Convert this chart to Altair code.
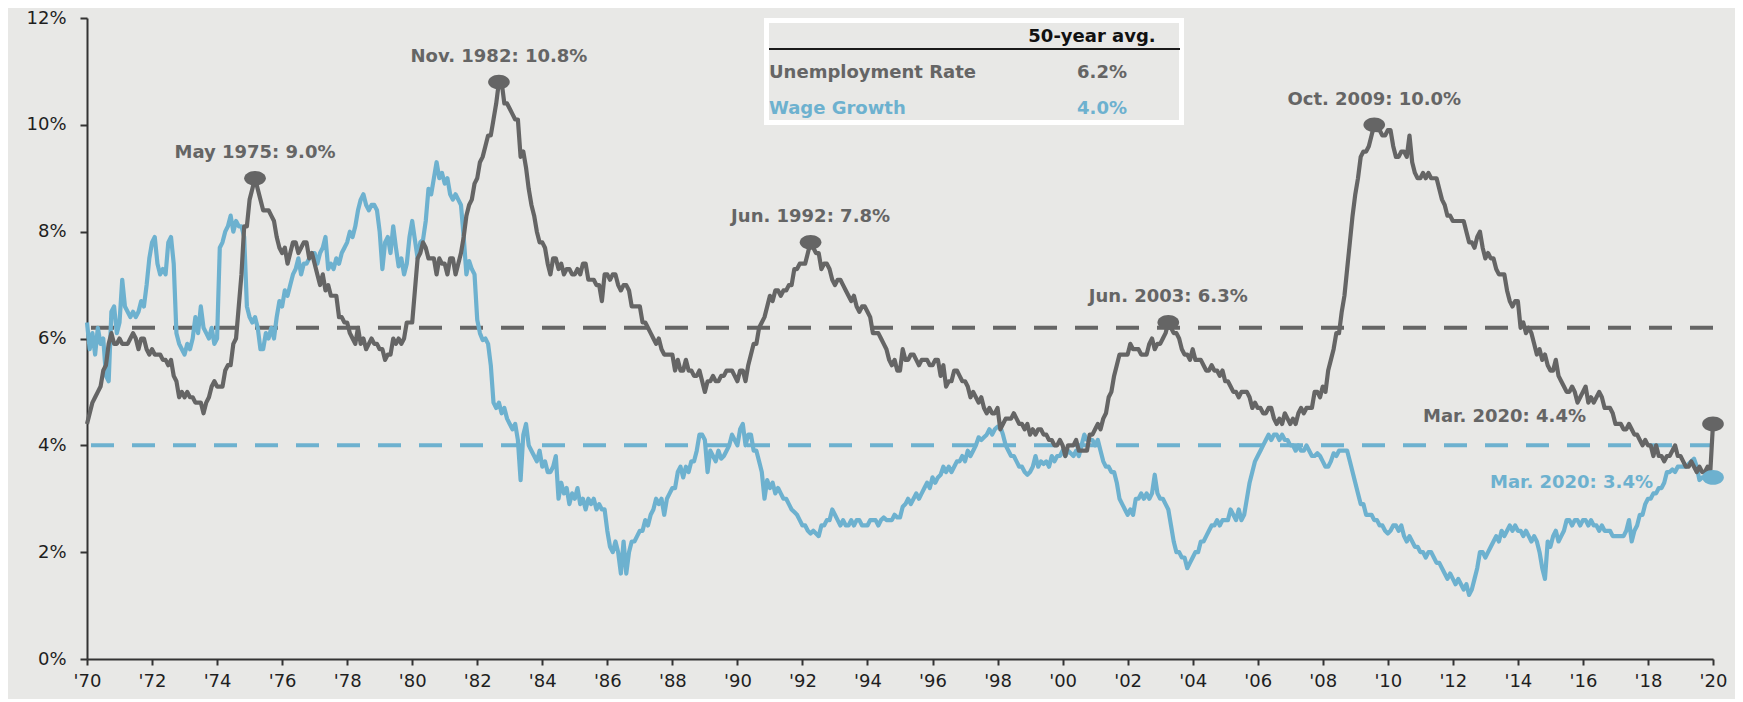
import altair as alt
import pandas as pd

# ---------------- data (monthly, Mar 1970 .. Mar 2020) ----------------
START_YEAR = 1970
START_MONTH = 3

unemployment = [
    4.4, 4.6, 4.8, 4.9, 5.0, 5.1, 5.4, 5.5, 5.9, 6.1,                # 1970 (Mar-Dec)
    5.9, 5.9, 6.0, 5.9, 5.9, 5.9, 6.0, 6.1, 6.0, 5.8, 6.0, 6.0,      # 1971
    5.8, 5.7, 5.8, 5.7, 5.7, 5.7, 5.6, 5.6, 5.5, 5.6, 5.3, 5.2,      # 1972
    4.9, 5.0, 4.9, 5.0, 4.9, 4.9, 4.8, 4.8, 4.8, 4.6, 4.8, 4.9,      # 1973
    5.1, 5.2, 5.1, 5.1, 5.1, 5.4, 5.5, 5.5, 5.9, 6.0, 6.6, 7.2,      # 1974
    8.1, 8.1, 8.6, 8.8, 9.0, 8.8, 8.6, 8.4, 8.4, 8.4, 8.3, 8.2,      # 1975
    7.9, 7.7, 7.6, 7.7, 7.4, 7.6, 7.8, 7.8, 7.6, 7.7, 7.8, 7.8,      # 1976
    7.5, 7.6, 7.4, 7.2, 7.0, 7.2, 6.9, 7.0, 6.8, 6.8, 6.8, 6.4,      # 1977
    6.4, 6.3, 6.3, 6.1, 6.0, 5.9, 6.2, 5.9, 6.0, 5.8, 5.9, 6.0,      # 1978
    5.9, 5.9, 5.8, 5.8, 5.6, 5.7, 5.7, 6.0, 5.9, 6.0, 5.9, 6.0,      # 1979
    6.3, 6.3, 6.3, 6.9, 7.5, 7.6, 7.8, 7.7, 7.5, 7.5, 7.5, 7.2,      # 1980
    7.5, 7.4, 7.4, 7.2, 7.5, 7.5, 7.2, 7.4, 7.6, 7.9, 8.3, 8.5,      # 1981
    8.6, 8.9, 9.0, 9.3, 9.4, 9.6, 9.8, 9.8, 10.1, 10.4, 10.8, 10.8,  # 1982
    10.4, 10.4, 10.3, 10.2, 10.1, 10.1, 9.4, 9.5, 9.2, 8.8, 8.5, 8.3,  # 1983
    8.0, 7.8, 7.8, 7.7, 7.4, 7.2, 7.5, 7.5, 7.3, 7.4, 7.2, 7.3,      # 1984
    7.3, 7.2, 7.2, 7.3, 7.2, 7.4, 7.4, 7.1, 7.1, 7.1, 7.0, 7.0,      # 1985
    6.7, 7.2, 7.2, 7.1, 7.2, 7.2, 7.0, 6.9, 7.0, 7.0, 6.9, 6.6,      # 1986
    6.6, 6.6, 6.6, 6.3, 6.3, 6.2, 6.1, 6.0, 5.9, 6.0, 5.8, 5.7,      # 1987
    5.7, 5.7, 5.7, 5.4, 5.6, 5.4, 5.4, 5.6, 5.4, 5.4, 5.3, 5.3,      # 1988
    5.4, 5.2, 5.0, 5.2, 5.2, 5.3, 5.2, 5.2, 5.3, 5.3, 5.4, 5.4,      # 1989
    5.4, 5.3, 5.2, 5.4, 5.4, 5.2, 5.5, 5.7, 5.9, 5.9, 6.2, 6.3,      # 1990
    6.4, 6.6, 6.8, 6.7, 6.9, 6.9, 6.8, 6.9, 6.9, 7.0, 7.0, 7.3,      # 1991
    7.3, 7.4, 7.4, 7.4, 7.6, 7.8, 7.7, 7.6, 7.6, 7.3, 7.4, 7.4,      # 1992
    7.3, 7.1, 7.0, 7.1, 7.1, 7.0, 6.9, 6.8, 6.7, 6.8, 6.6, 6.5,      # 1993
    6.6, 6.6, 6.5, 6.4, 6.1, 6.1, 6.1, 6.0, 5.9, 5.8, 5.6, 5.5,      # 1994
    5.6, 5.4, 5.4, 5.8, 5.6, 5.6, 5.7, 5.7, 5.6, 5.5, 5.6, 5.6,      # 1995
    5.6, 5.5, 5.5, 5.6, 5.6, 5.3, 5.5, 5.1, 5.2, 5.2, 5.4, 5.4,      # 1996
    5.3, 5.2, 5.2, 5.1, 4.9, 5.0, 4.9, 4.8, 4.9, 4.7, 4.6, 4.7,      # 1997
    4.6, 4.6, 4.7, 4.3, 4.4, 4.5, 4.5, 4.5, 4.6, 4.5, 4.4, 4.4,      # 1998
    4.3, 4.4, 4.2, 4.3, 4.2, 4.3, 4.3, 4.2, 4.2, 4.1, 4.1, 4.0,      # 1999
    4.0, 4.1, 4.0, 3.8, 4.0, 4.0, 4.0, 4.1, 3.9, 3.9, 3.9, 3.9,      # 2000
    4.2, 4.2, 4.3, 4.4, 4.3, 4.5, 4.6, 4.9, 5.0, 5.3, 5.5, 5.7,      # 2001
    5.7, 5.7, 5.7, 5.9, 5.8, 5.8, 5.8, 5.7, 5.7, 5.7, 5.9, 6.0,      # 2002
    5.8, 5.9, 5.9, 6.0, 6.1, 6.3, 6.2, 6.1, 6.1, 6.0, 5.8, 5.7,      # 2003
    5.7, 5.6, 5.8, 5.6, 5.6, 5.6, 5.5, 5.4, 5.4, 5.5, 5.4, 5.4,      # 2004
    5.3, 5.4, 5.2, 5.2, 5.1, 5.0, 5.0, 4.9, 5.0, 5.0, 5.0, 4.9,      # 2005
    4.7, 4.8, 4.7, 4.7, 4.6, 4.6, 4.7, 4.7, 4.5, 4.4, 4.5, 4.4,      # 2006
    4.6, 4.5, 4.4, 4.5, 4.4, 4.6, 4.7, 4.6, 4.7, 4.7, 4.7, 5.0,      # 2007
    5.0, 4.9, 5.1, 5.0, 5.4, 5.6, 5.8, 6.1, 6.1, 6.5, 6.8, 7.3,      # 2008
    7.8, 8.3, 8.7, 9.0, 9.4, 9.5, 9.5, 9.6, 9.8, 10.0, 9.9, 9.9,     # 2009
    9.8, 9.8, 9.9, 9.9, 9.6, 9.4, 9.4, 9.5, 9.5, 9.4, 9.8, 9.3,      # 2010
    9.1, 9.0, 9.0, 9.1, 9.0, 9.1, 9.0, 9.0, 9.0, 8.8, 8.6, 8.5,      # 2011
    8.3, 8.3, 8.2, 8.2, 8.2, 8.2, 8.2, 8.0, 7.8, 7.8, 7.7, 7.9,      # 2012
    8.0, 7.7, 7.5, 7.6, 7.5, 7.5, 7.3, 7.2, 7.2, 7.2, 6.9, 6.7,      # 2013
    6.6, 6.7, 6.7, 6.2, 6.3, 6.1, 6.2, 6.1, 5.9, 5.7, 5.8, 5.6,      # 2014
    5.7, 5.5, 5.4, 5.4, 5.6, 5.3, 5.2, 5.1, 5.0, 5.0, 5.1, 5.0,      # 2015
    4.8, 4.9, 5.0, 5.1, 4.8, 4.9, 4.8, 4.9, 5.0, 4.9, 4.7, 4.7,      # 2016
    4.7, 4.6, 4.4, 4.4, 4.4, 4.3, 4.3, 4.4, 4.3, 4.2, 4.2, 4.1,      # 2017
    4.0, 4.1, 4.0, 4.0, 3.8, 4.0, 3.8, 3.8, 3.7, 3.8, 3.8, 3.9,      # 2018
    4.0, 3.8, 3.8, 3.7, 3.6, 3.6, 3.7, 3.6, 3.5, 3.6, 3.5, 3.5,      # 2019
    3.6, 3.5, 4.4,                                                   # 2020 (Jan-Mar)
]

wage_growth = [
    6.3, 5.8, 6.1, 5.7, 6.2, 5.9, 6.0, 5.3, 5.2, 6.5,                # 1970 (Mar-Dec)
    6.6, 6.1, 6.3, 7.1, 6.6, 6.5, 6.4, 6.5, 6.4, 6.5, 6.7, 6.6,      # 1971
    7.0, 7.5, 7.8, 7.9, 7.4, 7.2, 7.3, 7.2, 7.8, 7.9, 7.4, 6.1,      # 1972
    5.9, 5.8, 5.7, 5.9, 5.8, 6.0, 6.4, 6.1, 6.6, 6.2, 6.1, 6.0,      # 1973
    6.2, 5.9, 6.0, 7.7, 7.8, 8.0, 8.1, 8.3, 8.0, 8.2, 8.1, 8.1,      # 1974
    7.9, 6.6, 6.4, 6.3, 6.4, 6.2, 5.8, 5.8, 6.1, 6.0, 6.2, 6.0,      # 1975
    6.4, 6.7, 6.6, 6.9, 6.8, 7.0, 7.2, 7.3, 7.5, 7.2, 7.4, 7.4,      # 1976
    7.5, 7.6, 7.6, 7.4, 7.6, 7.7, 7.9, 7.3, 7.4, 7.3, 7.5, 7.4,      # 1977
    7.6, 7.7, 7.8, 8.0, 7.9, 8.1, 8.4, 8.6, 8.7, 8.5, 8.4, 8.5,      # 1978
    8.5, 8.4, 8.0, 7.3, 7.8, 7.9, 7.6, 8.1, 7.7, 7.35, 7.5, 7.2,     # 1979
    7.4, 7.9, 8.2, 7.85, 7.5, 7.8, 7.85, 8.2, 8.8, 8.7, 9.0, 9.3,    # 1980
    9.0, 9.1, 8.9, 9.0, 8.7, 8.6, 8.7, 8.6, 8.5, 7.9, 7.2, 7.45,     # 1981
    7.3, 7.2, 6.35, 6.1, 5.97, 6.0, 5.9, 5.5, 4.8, 4.7, 4.8, 4.6,    # 1982
    4.7, 4.5, 4.4, 4.3, 4.4, 4.1, 3.35, 4.2, 4.4, 4.0, 3.9, 3.8,     # 1983
    3.7, 3.9, 3.6, 3.7, 3.5, 3.5, 3.6, 3.8, 3.0, 3.3, 3.1, 3.2,      # 1984
    2.9, 3.1, 3.0, 3.2, 2.9, 3.0, 2.8, 3.0, 2.9, 3.0, 2.8, 2.9,      # 1985
    2.8, 2.8, 2.4, 2.1, 2.0, 2.2, 2.0, 1.6, 2.2, 1.6, 2.0, 2.2,      # 1986
    2.2, 2.3, 2.4, 2.4, 2.6, 2.5, 2.7, 2.8, 3.0, 2.9, 3.0, 2.7,      # 1987
    3.0, 3.1, 3.2, 3.2, 3.5, 3.6, 3.4, 3.6, 3.5, 3.7, 3.7, 3.9,      # 1988
    4.2, 4.2, 4.1, 3.5, 3.9, 3.8, 3.7, 3.9, 3.75, 3.8, 3.9, 4.0,     # 1989
    4.2, 4.1, 4.0, 4.3, 4.4, 4.0, 4.2, 4.2, 3.9, 3.9, 3.7, 3.5,      # 1990
    3.0, 3.35, 3.2, 3.3, 3.1, 3.2, 3.1, 3.0, 3.0, 2.9, 2.8, 2.75,    # 1991
    2.7, 2.6, 2.5, 2.5, 2.4, 2.35, 2.4, 2.35, 2.3, 2.5, 2.5, 2.6,    # 1992
    2.6, 2.8, 2.7, 2.6, 2.5, 2.6, 2.5, 2.5, 2.6, 2.5, 2.6, 2.6,      # 1993
    2.5, 2.5, 2.5, 2.6, 2.6, 2.6, 2.5, 2.6, 2.65, 2.6, 2.6, 2.6,     # 1994
    2.7, 2.65, 2.65, 2.85, 2.9, 3.0, 2.9, 3.0, 3.1, 3.0, 3.1, 3.2,   # 1995
    3.3, 3.2, 3.4, 3.3, 3.4, 3.45, 3.6, 3.5, 3.6, 3.5, 3.6, 3.7,     # 1996
    3.7, 3.8, 3.7, 3.9, 3.8, 3.9, 4.0, 4.15, 4.1, 4.15, 4.2, 4.3,    # 1997
    4.2, 4.3, 4.35, 4.35, 4.2, 4.0, 3.9, 3.8, 3.8, 3.7, 3.6, 3.6,    # 1998
    3.5, 3.45, 3.5, 3.6, 3.8, 3.6, 3.7, 3.65, 3.7, 3.6, 3.8, 3.7,    # 1999
    3.8, 3.8, 3.9, 3.8, 3.9, 3.85, 3.8, 3.9, 3.8, 4.0, 4.2, 4.1,     # 2000
    4.1, 4.1, 4.0, 4.1, 3.9, 3.7, 3.6, 3.6, 3.5, 3.5, 3.3, 3.0,      # 2001
    2.9, 2.8, 2.7, 2.8, 2.7, 3.0, 3.0, 3.1, 3.0, 3.1, 3.0, 3.1,      # 2002
    3.45, 3.1, 3.0, 3.0, 2.9, 2.8, 2.5, 2.2, 2.0, 2.0, 1.9, 1.9,     # 2003
    1.7, 1.8, 1.9, 2.0, 2.0, 2.2, 2.2, 2.3, 2.4, 2.5, 2.5, 2.6,      # 2004
    2.5, 2.6, 2.6, 2.6, 2.8, 2.7, 2.6, 2.8, 2.6, 2.7, 3.0, 3.3,      # 2005
    3.5, 3.7, 3.8, 3.9, 4.0, 4.1, 4.2, 4.1, 4.2, 4.2, 4.1, 4.2,      # 2006
    4.1, 4.1, 4.0, 4.0, 3.9, 4.0, 3.9, 3.9, 4.0, 3.9, 3.8, 3.8,      # 2007
    3.85, 3.8, 3.7, 3.6, 3.6, 3.7, 3.85, 3.8, 3.9, 3.9, 3.9, 3.9,    # 2008
    3.7, 3.5, 3.3, 3.1, 2.9, 2.9, 2.7, 2.7, 2.7, 2.6, 2.6, 2.5,      # 2009
    2.5, 2.4, 2.35, 2.4, 2.5, 2.5, 2.4, 2.5, 2.3, 2.2, 2.3, 2.2,     # 2010
    2.1, 2.1, 2.0, 2.0, 1.9, 2.0, 2.0, 1.9, 1.8, 1.8, 1.7, 1.6,      # 2011
    1.5, 1.6, 1.5, 1.4, 1.5, 1.4, 1.3, 1.4, 1.2, 1.3, 1.5, 1.7,      # 2012
    2.0, 2.0, 1.9, 2.0, 2.1, 2.2, 2.3, 2.2, 2.4, 2.3, 2.4, 2.5,      # 2013
    2.4, 2.5, 2.4, 2.4, 2.3, 2.4, 2.3, 2.2, 2.3, 2.2, 2.0, 1.7,      # 2014
    1.5, 2.2, 2.1, 2.3, 2.4, 2.2, 2.3, 2.4, 2.6, 2.6, 2.5, 2.6,      # 2015
    2.6, 2.5, 2.6, 2.6, 2.5, 2.6, 2.5, 2.5, 2.4, 2.5, 2.4, 2.4,      # 2016
    2.4, 2.3, 2.3, 2.3, 2.3, 2.3, 2.4, 2.6, 2.2, 2.4, 2.5, 2.7,      # 2017
    2.7, 2.9, 3.0, 3.0, 3.1, 3.1, 3.2, 3.2, 3.3, 3.5, 3.5, 3.55,     # 2018
    3.5, 3.6, 3.6, 3.6, 3.6, 3.65, 3.7, 3.75, 3.6, 3.35, 3.4, 3.4,   # 2019
    3.4, 3.35, 3.4,                                                  # 2020 (Jan-Mar)
]

series_names = ["Unemployment Rate", "Wage Growth"]
avg_values = [6.2, 4.0]
avg_header = "50-year avg."

peak_labels = ["May 1975", "Nov. 1982", "Jun. 1992", "Jun. 2003", "Oct. 2009"]
peak_years = [1975, 1982, 1992, 2003, 2009]
peak_months = [5, 11, 6, 6, 10]
latest_label = "Mar. 2020"

x_tick_values = list(range(0, 51, 2))          # years since Mar 1970
y_tick_values = [0, 2, 4, 6, 8, 10, 12]

# ---------------- styling ----------------
GRAY = "#656565"
BLUE = "#6DB1CF"
BG = "#E8E8E6"
FONT = "DejaVu Sans"
W, H = 1626, 641
LINE_W = 4.2
ELLIPSE = "M-1,0 A1,0.68 0 1,0 1,0 A1,0.68 0 1,0 -1,0 Z"
MARK_SIZE = 470


def month_index(year, month):
    return (year - START_YEAR) * 12 + (month - START_MONTH)


n = min(len(unemployment), len(wage_growth))
t = [i / 12 for i in range(n)]
df_u = pd.DataFrame({"t": t, "value": unemployment[:n]})
df_w = pd.DataFrame({"t": t, "value": wage_growth[:n]})

x_scale = alt.Scale(domain=[0, 50], nice=False, zero=False)
y_scale = alt.Scale(domain=[0, 12], nice=False, zero=True)

x_axis = alt.Axis(
    values=x_tick_values,
    labelExpr="\"'\" + substring(toString(1970 + datum.value), 2, 4)",
    title=None, grid=False, labelFlush=False, labelOverlap=False,
    domainColor="#333333", domainWidth=2, tickColor="#333333", tickWidth=2,
    tickSize=6, labelPadding=7, labelFont=FONT, labelFontSize=18, labelColor="#1e1e1e",
)
y_axis = alt.Axis(
    values=y_tick_values, labelExpr="datum.value + '%'",
    title=None, grid=False,
    domainColor="#333333", domainWidth=2, tickColor="#333333", tickWidth=2,
    tickSize=7, labelPadding=14, labelFont=FONT, labelFontSize=18, labelColor="#1e1e1e",
)

X = alt.X("t:Q", scale=x_scale, axis=x_axis)
Y = alt.Y("value:Q", scale=y_scale, axis=y_axis)
Xs = alt.X("t:Q", scale=x_scale)
Ys = alt.Y("value:Q", scale=y_scale)

# average dashed rules
avg_rules = [
    alt.Chart(pd.DataFrame({"value": [v]})).mark_rule(
        color=c, strokeWidth=4, strokeDash=[23, 18]
    ).encode(y=Ys)
    for v, c in zip(avg_values, [GRAY, BLUE])
]

line_w = alt.Chart(df_w).mark_line(color=BLUE, strokeWidth=LINE_W, strokeJoin="round").encode(x=X, y=Y)
line_u = alt.Chart(df_u).mark_line(color=GRAY, strokeWidth=LINE_W, strokeJoin="round").encode(x=X, y=Y)

# peak annotations
pk_idx = [month_index(y, m) for y, m in zip(peak_years, peak_months)]
df_pk = pd.DataFrame({
    "t": [t[i] for i in pk_idx],
    "value": [unemployment[i] for i in pk_idx],
    "label": [f"{lab}: {unemployment[i]:.1f}%" for lab, i in zip(peak_labels, pk_idx)],
})
pk_pts = alt.Chart(df_pk).mark_point(
    filled=True, size=MARK_SIZE, opacity=1, color=GRAY, shape=ELLIPSE, strokeWidth=0
).encode(x=Xs, y=Ys)
pk_txt = alt.Chart(df_pk).mark_text(
    font=FONT, fontSize=18, fontWeight="bold", color=GRAY, dy=-25, baseline="middle"
).encode(x=Xs, y=Ys, text="label:N")

# latest values
last = n - 1
df_last_u = pd.DataFrame({"t": [t[last]], "value": [unemployment[last]],
                          "label": [f"{latest_label}: {unemployment[last]:.1f}%"]})
df_last_w = pd.DataFrame({"t": [t[last]], "value": [wage_growth[last]],
                          "label": [f"{latest_label}: {wage_growth[last]:.1f}%"]})
last_u_pt = alt.Chart(df_last_u).mark_point(
    filled=True, size=MARK_SIZE, opacity=1, color=GRAY, shape=ELLIPSE, strokeWidth=0
).encode(x=Xs, y=Ys)
last_w_pt = alt.Chart(df_last_w).mark_point(
    filled=True, size=MARK_SIZE, opacity=1, color=BLUE, shape=ELLIPSE, strokeWidth=0
).encode(x=Xs, y=Ys)
last_u_txt = alt.Chart(df_last_u).mark_text(
    font=FONT, fontSize=18, fontWeight="bold", color=GRAY, align="right", baseline="middle",
    dx=-127, dy=-7
).encode(x=Xs, y=Ys, text="label:N")
last_w_txt = alt.Chart(df_last_w).mark_text(
    font=FONT, fontSize=18, fontWeight="bold", color=BLUE, align="right", baseline="middle",
    dx=-60, dy=6
).encode(x=Xs, y=Ys, text="label:N")

# 50-year average table (legend-like box)
one = pd.DataFrame({"k": [0]})
box = alt.Chart(one).mark_rect(fill=BG, stroke="white", strokeWidth=5).encode(
    x=alt.value(679.5), x2=alt.value(1094.5), y=alt.value(2.5), y2=alt.value(104.5))
underline = alt.Chart(one).mark_rule(color="#1a1a1a", strokeWidth=2).encode(
    x=alt.value(682), x2=alt.value(1093), y=alt.value(31))
header = alt.Chart(pd.DataFrame({"label": [avg_header]})).mark_text(
    font=FONT, fontSize=18, fontWeight="bold", color="#111111", align="center", baseline="middle"
).encode(x=alt.value(1005), y=alt.value(19), text="label:N")

table_layers = []
for i, (name, v, c) in enumerate(zip(series_names, avg_values, [GRAY, BLUE])):
    d = pd.DataFrame({"name": [name], "avg": [f"{v:.1f}%"]})
    table_layers.append(alt.Chart(d).mark_text(
        font=FONT, fontSize=18, fontWeight="bold", color=c, align="left", baseline="middle"
    ).encode(x=alt.value(682), y=alt.value(55 + 36 * i), text="name:N"))
    table_layers.append(alt.Chart(d).mark_text(
        font=FONT, fontSize=18, fontWeight="bold", color=c, align="center", baseline="middle"
    ).encode(x=alt.value(1015), y=alt.value(55 + 36 * i), text="avg:N"))

chart = alt.layer(
    *avg_rules, line_w, line_u, pk_pts, pk_txt,
    last_u_pt, last_w_pt, last_u_txt, last_w_txt,
    box, underline, header, *table_layers,
).properties(
    width=W, height=H,
    autosize=alt.AutoSizeParams(type="none"),
    padding={"left": 79, "top": 10, "right": 22, "bottom": 40},
    background=BG,
).configure_view(strokeWidth=0)

chart.save("out.html", embed_options={"renderer": "svg", "actions": False})
